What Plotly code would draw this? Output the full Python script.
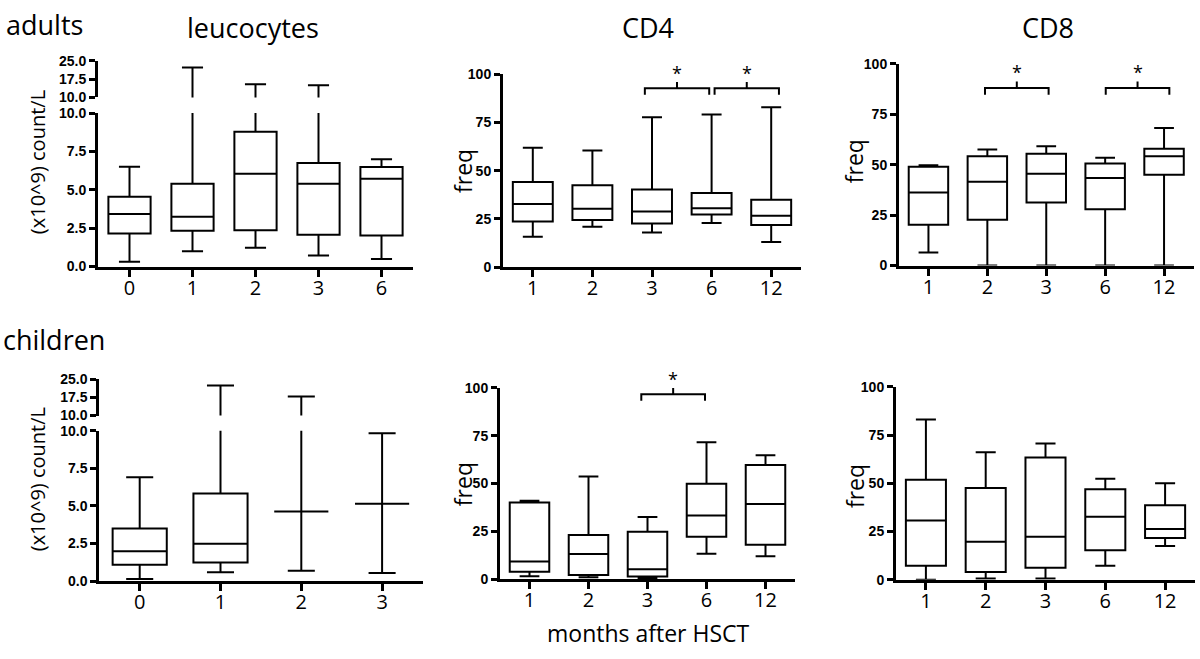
import plotly.graph_objects as go

W, H = 1200, 659

# === Data (box = min / q1 / median / q3 / max) ===
leuco_adult_months = ["0", "1", "2", "3", "6"]
leuco_child_months = ["0", "1", "2", "3"]
cd_months = ["1", "2", "3", "6", "12"]

adult_leuco_min = [0.32, 1.0, 1.23, 0.72, 0.5]
adult_leuco_q1 = [2.16, 2.33, 2.37, 2.08, 2.03]
adult_leuco_med = [3.43, 3.24, 6.04, 5.4, 5.72]
adult_leuco_q3 = [4.55, 5.4, 8.79, 6.74, 6.48]
adult_leuco_max = [6.5, 22.3, 15.4, 15.0, 7.0]

adult_cd4_min = [15.8, 21.0, 18.0, 22.9, 13.1]
adult_cd4_q1 = [23.7, 24.4, 22.6, 27.3, 21.9]
adult_cd4_med = [32.8, 30.3, 28.8, 30.6, 26.6]
adult_cd4_q3 = [44.1, 42.4, 40.2, 38.4, 35.0]
adult_cd4_max = [61.8, 60.4, 77.6, 79.1, 82.8]

adult_cd8_min = [6.5, 0.0, 0.0, 0.0, 0.0]
adult_cd8_q1 = [20.2, 22.7, 31.3, 27.9, 45.0]
adult_cd8_med = [36.3, 41.6, 45.5, 43.4, 54.2]
adult_cd8_q3 = [49.0, 54.2, 55.5, 50.6, 57.9]
adult_cd8_max = [49.8, 57.6, 59.2, 53.5, 68.2]

child_leuco_min = [0.13, 0.58, 0.69, 0.54]
child_leuco_q1 = [1.08, 1.23, 4.62, 5.15]
child_leuco_med = [1.99, 2.49, 4.62, 5.15]
child_leuco_q3 = [3.5, 5.82, 4.62, 5.15]
child_leuco_max = [6.9, 22.5, 17.9, 9.83]

child_cd4_min = [1.5, 1.0, 0.5, 13.3, 11.9]
child_cd4_q1 = [3.9, 2.2, 1.4, 22.1, 17.9]
child_cd4_med = [9.2, 13.1, 5.1, 33.2, 39.3]
child_cd4_q3 = [40.1, 23.1, 24.8, 49.8, 59.7]
child_cd4_max = [41.0, 53.6, 32.5, 71.6, 64.8]

child_cd8_min = [0.0, 0.7, 0.7, 7.3, 17.5]
child_cd8_q1 = [7.3, 4.0, 6.2, 15.3, 21.6]
child_cd8_med = [30.7, 19.7, 22.3, 32.7, 26.3]
child_cd8_q3 = [51.9, 47.6, 63.4, 46.9, 38.6]
child_cd8_max = [83.1, 66.1, 70.7, 52.4, 50.1]

# significance brackets: pairs of category indices and bracket heights
adult_cd4_pairs = [(2, 3), (3, 4)]
adult_cd4_heights = [92.6, 92.6]
adult_cd8_pairs = [(1, 2), (3, 4)]
adult_cd8_heights = [88.0, 88.0]
child_cd4_pairs = [(2, 3)]
child_cd4_heights = [96.6]

# small horizontal nudges of the brackets (style only)
adult_cd4_shift = [-0.08, 0.09]
adult_cd8_shift = [0.0, 0.05]
child_cd4_shift = [-0.065]

LEUCO_BREAK = 10


def px_x(a, b):
    return [a / W, b / W]


def px_y(top, bottom):
    return [1 - bottom / H, 1 - top / H]


fig = go.Figure()


def add_boxes(xa, ya, lo, q1, med, q3, hi, only_above=None):
    idx = list(range(len(hi)))
    if only_above is not None:
        idx = [i for i in idx if hi[i] > only_above]
    fig.add_trace(go.Box(
        x=idx,
        lowerfence=[lo[i] for i in idx], q1=[q1[i] for i in idx],
        median=[med[i] for i in idx], q3=[q3[i] for i in idx],
        upperfence=[hi[i] for i in idx],
        xaxis=xa, yaxis=ya,
        width=0.67, whiskerwidth=0.5,
        line=dict(color="black", width=2),
        fillcolor="white",
        boxpoints=False,
        hoverinfo="skip",
        showlegend=False
    ))


def add_brackets(xa, ya, pairs, heights, shifts, drop=3.3):
    for (i, j), h, s in zip(pairs, heights, shifts):
        left, right = i + s - 0.04, j + s + 0.04
        mid = (left + right) / 2
        fig.add_trace(go.Scatter(
            x=[left, left, mid, mid, mid, right, right],
            y=[h - drop, h, h, h + drop, h, h, h - drop],
            mode="lines",
            line=dict(color="black", width=2),
            xaxis=xa, yaxis=ya,
            hoverinfo="skip", showlegend=False
        ))
        fig.add_annotation(
            x=mid, y=h + drop, xref=xa, yref=ya,
            text="*", showarrow=False, yanchor="bottom", yshift=-5,
            font=dict(family="Open Sans", size=18, color="black")
        )


# === Leucocytes (broken axis: lower part 0-10, upper part 10-25) ===
add_boxes("x", "y", adult_leuco_min, adult_leuco_q1, adult_leuco_med,
          adult_leuco_q3, adult_leuco_max)
add_boxes("x", "y7", adult_leuco_min, adult_leuco_q1, adult_leuco_med,
          adult_leuco_q3, adult_leuco_max, only_above=LEUCO_BREAK)
add_boxes("x4", "y4", child_leuco_min, child_leuco_q1, child_leuco_med,
          child_leuco_q3, child_leuco_max)
add_boxes("x4", "y8", child_leuco_min, child_leuco_q1, child_leuco_med,
          child_leuco_q3, child_leuco_max, only_above=LEUCO_BREAK)

# === CD4 / CD8 ===
add_boxes("x2", "y2", adult_cd4_min, adult_cd4_q1, adult_cd4_med,
          adult_cd4_q3, adult_cd4_max)
add_boxes("x3", "y3", adult_cd8_min, adult_cd8_q1, adult_cd8_med,
          adult_cd8_q3, adult_cd8_max)
add_boxes("x5", "y5", child_cd4_min, child_cd4_q1, child_cd4_med,
          child_cd4_q3, child_cd4_max)
add_boxes("x6", "y6", child_cd8_min, child_cd8_q1, child_cd8_med,
          child_cd8_q3, child_cd8_max)

add_brackets("x2", "y2", adult_cd4_pairs, adult_cd4_heights, adult_cd4_shift)
add_brackets("x3", "y3", adult_cd8_pairs, adult_cd8_heights, adult_cd8_shift)
add_brackets("x5", "y5", child_cd4_pairs, child_cd4_heights, child_cd4_shift)

# === Axes ===
xcommon = dict(
    showline=True, linewidth=3, linecolor="black",
    ticks="outside", ticklen=7, tickwidth=3, tickcolor="black",
    ticklabelstandoff=-6,
    showgrid=False, zeroline=False, fixedrange=True,
    tickfont=dict(family="Open Sans", size=20, color="black")
)
ycommon = dict(
    showline=True, linewidth=3, linecolor="black",
    ticks="outside", ticklen=6, tickwidth=3, tickcolor="black",
    showgrid=False, zeroline=False, fixedrange=True,
    tickfont=dict(family="Liberation Sans", size=14, color="black", weight="bold")
)


def xaxis(dom, months, anchor):
    n = len(months)
    return dict(xcommon, domain=dom, range=[-0.5, n - 0.5], anchor=anchor,
                tickmode="array", tickvals=list(range(n)), ticktext=months)


def freq_axis(dom, anchor):
    return dict(ycommon, domain=dom, range=[0, 100], anchor=anchor,
                tickmode="array", tickvals=[0, 25, 50, 75, 100])


def leuco_low(dom, anchor):
    return dict(ycommon, domain=dom, range=[0, LEUCO_BREAK], anchor=anchor,
                tickmode="array", tickvals=[0, 2.5, 5, 7.5, 10], tickformat=".1f")


def leuco_high(dom, anchor):
    return dict(ycommon, domain=dom, range=[LEUCO_BREAK, 25], anchor=anchor,
                tickmode="array", tickvals=[10, 17.5, 25], tickformat=".1f")


fig.update_layout(
    width=W, height=H,
    margin=dict(l=0, r=0, t=0, b=0),
    plot_bgcolor="white", paper_bgcolor="white",
    boxmode="overlay",
    xaxis=xaxis(px_x(98, 413), leuco_adult_months, "y"),
    xaxis2=xaxis(px_x(503, 801), cd_months, "y2"),
    xaxis3=xaxis(px_x(899, 1193.5), cd_months, "y3"),
    xaxis4=xaxis(px_x(99.3, 422.5), leuco_child_months, "y4"),
    xaxis5=xaxis(px_x(500, 795), cd_months, "y5"),
    xaxis6=xaxis(px_x(896, 1195), cd_months, "y6"),
    yaxis=leuco_low(px_y(107.7, 265), "x"),
    yaxis7=leuco_high(px_y(54.3, 91.7), "x"),
    yaxis2=freq_axis(px_y(67.7, 265.7), "x2"),
    yaxis3=freq_axis(px_y(57.3, 264), "x3"),
    yaxis4=leuco_low(px_y(433.3, 587.3), "x4"),
    yaxis8=leuco_high(px_y(380.7, 417.7), "x4"),
    yaxis5=freq_axis(px_y(389.3, 585.3), "x5"),
    yaxis6=freq_axis(px_y(388.3, 586), "x6"),
)


# === Text labels ===
def label(text, x, y, size, xanchor="center", angle=0):
    fig.add_annotation(
        x=x / W, y=1 - y / H, xref="paper", yref="paper",
        text=text, showarrow=False, xanchor=xanchor, yanchor="middle",
        textangle=angle,
        font=dict(family="Open Sans", size=size, color="black")
    )


label("adults", 4, 17, 27, xanchor="left")
label("leucocytes", 253, 20, 27)
label("CD4", 648, 20, 27)
label("CD8", 1048, 20, 27)
label("children", 1, 340, 27, xanchor="left")
label("months after HSCT", 648, 641, 23)

label("(x10^9) count/L", 37, 158, 20, angle=-90)
label("freq", 463, 167, 23, angle=-90)
label("freq", 854, 157, 23, angle=-90)
label("(x10^9) count/L", 37, 483, 20, angle=-90)
label("freq", 463, 488, 23, angle=-90)
label("freq", 855, 490, 23, angle=-90)

fig.write_html("out.html", config={"displayModeBar": False},
               post_script="document.body.style.margin='0';")
